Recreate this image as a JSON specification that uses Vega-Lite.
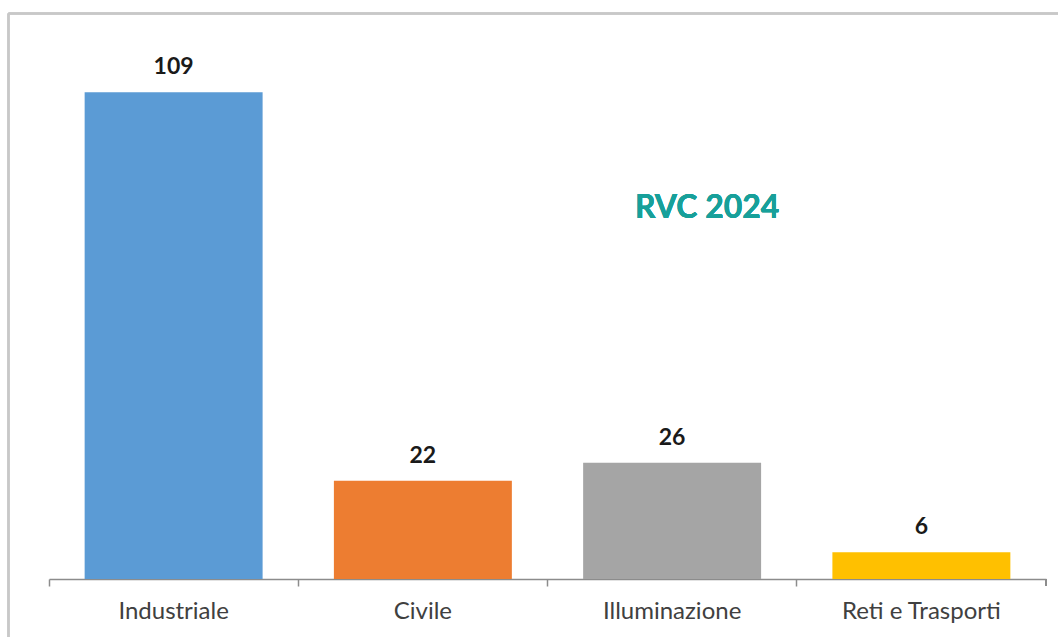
{
  "$schema": "https://vega.github.io/schema/vega-lite/v6.json",
  "width": 997,
  "height": 536,
  "autosize": "none",
  "padding": {"left": 49, "top": 43, "right": 12, "bottom": 58},
  "background": "#ffffff",
  "config": {"view": {"stroke": null}, "font": "Lato"},
  "data": {"values": [
    {"categoria": "Industriale", "valore": 109},
    {"categoria": "Civile", "valore": 22},
    {"categoria": "Illuminazione", "valore": 26},
    {"categoria": "Reti e Trasporti", "valore": 6}
  ]},
  "layer": [
    {
      "mark": {"type": "bar"},
      "encoding": {
        "x": {"field": "categoria", "type": "nominal", "sort": null,
          "scale": {"paddingInner": 0.286, "paddingOuter": 0.143},
          "axis": {"title": null, "labelAngle": 0, "labelFontSize": 24, "labelColor": "#404040", "labelFont": "Lato",
            "domainColor": "#8c8c8c", "domainWidth": 1.5, "tickColor": "#8c8c8c", "tickWidth": 1.5, "tickSize": 7, "bandPosition": -0.2, "labelPadding": 13}},
        "y": {"field": "valore", "type": "quantitative", "scale": {"domain": [0, 120]}, "axis": null},
        "color": {"field": "categoria", "type": "nominal", "sort": null, "legend": null,
          "scale": {"domain": ["Industriale", "Civile", "Illuminazione", "Reti e Trasporti"], "range": ["#5b9bd5", "#ed7d31", "#a5a5a5", "#ffc000"]}}
      }
    },
    {
      "mark": {"type": "text", "fontWeight": "bold", "fontSize": 23, "color": "#1a1a1a", "baseline": "alphabetic", "dy": -18},
      "encoding": {
        "x": {"field": "categoria", "type": "nominal", "sort": null},
        "y": {"field": "valore", "type": "quantitative"},
        "text": {"field": "valore", "type": "quantitative"}
      }
    },
    {
      "mark": {"type": "text", "fontWeight": "bold", "fontSize": 32, "color": "#17a09a", "baseline": "alphabetic", "align": "center", "dx": 35},
      "encoding": {
        "x": {"datum": "Illuminazione"},
        "y": {"datum": 80.8},
        "text": {"value": "RVC 2024"}
      }
    },
    {
      "mark": {"type": "rule", "color": "#8c8c8c", "strokeWidth": 1.5},
      "encoding": {
        "x": {"datum": "Reti e Trasporti", "bandPosition": 1.2},
        "y": {"datum": 0},
        "y2": {"datum": -1.57}
      }
    },
    {
      "mark": {"type": "rule", "color": "#c8c8c8", "strokeWidth": 2},
      "encoding": {
        "x": {"datum": "Industriale", "bandPosition": -0.428},
        "y": {"datum": 126.6},
        "y2": {"datum": -15}
      }
    },
    {
      "mark": {"type": "rule", "color": "#c8c8c8", "strokeWidth": 2},
      "encoding": {
        "x": {"datum": "Industriale", "bandPosition": -0.428},
        "x2": {"datum": "Reti e Trasporti", "bandPosition": 1.335},
        "y": {"datum": 126.6}
      }
    }
  ]
}
